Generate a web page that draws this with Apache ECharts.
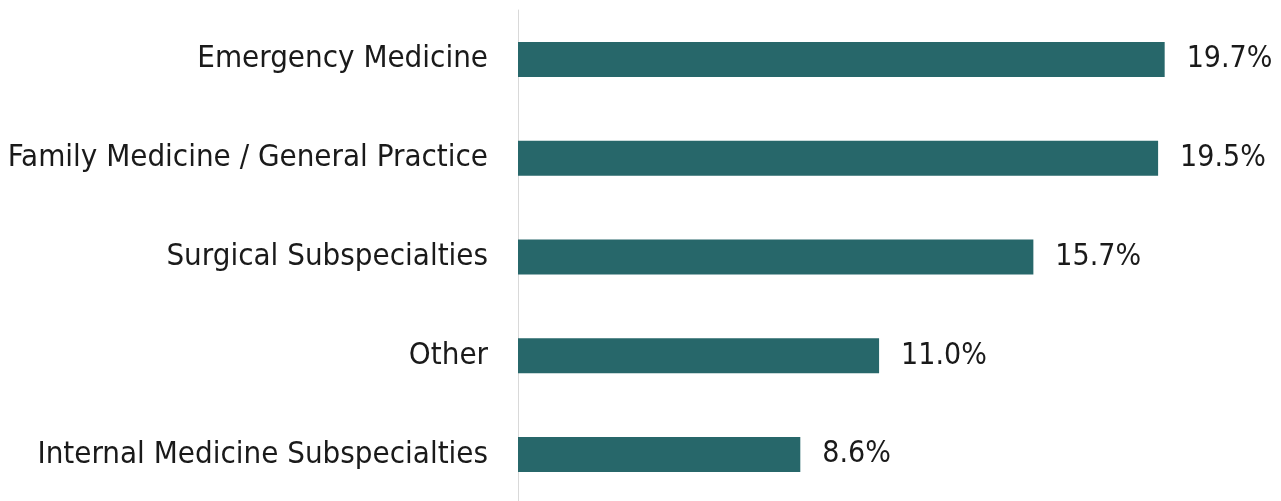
<!DOCTYPE html>
<html>
<head>
<meta charset="utf-8">
<script src="https://cdn.jsdelivr.net/npm/echarts@6/dist/echarts.min.js"></script>
<style>
html, body { margin: 0; padding: 0; background: #fff; overflow: hidden; }
#main { width: 1281px; height: 510px; }
</style>
</head>
<body>
<div id="main"></div>
<script>
// 专科分布 横向柱状图
var categories = [
    'Internal Medicine Subspecialties',
    'Other',
    'Surgical Subspecialties',
    'Family Medicine / General Practice',
    'Emergency Medicine'
];
var values = [8.6, 11.0, 15.7, 19.5, 19.7];

var myChart = echarts.init(document.getElementById('main'));

var option = {
    animation: false,
    grid: {
        left: 518,
        right: 8,
        top: 10,
        height: 494,
        containLabel: false
    },
    xAxis: {
        type: 'value',
        min: 0,
        max: 23,
        show: false
    },
    yAxis: {
        type: 'category',
        data: categories,
        axisLine: { show: true, lineStyle: { color: '#d9d9d9', width: 1 } },
        axisTick: { show: false },
        axisLabel: {
            margin: 30,
            color: '#1a1a1a',
            fontFamily: 'Liberation Sans Narrow, DejaVu Sans Condensed, sans-serif',
            fontSize: 31
        }
    },
    series: [
        {
            type: 'bar',
            data: values,
            barWidth: 35,
            itemStyle: { color: '#27676a' },
            label: {
                show: true,
                position: 'right',
                distance: 22,
                color: '#1a1a1a',
                fontFamily: 'Liberation Sans Narrow, DejaVu Sans Condensed, sans-serif',
                fontSize: 30,
                formatter: function (p) { return p.value.toFixed(1) + '%'; }
            }
        }
    ]
};

myChart.setOption(option);
</script>
</body>
</html>
